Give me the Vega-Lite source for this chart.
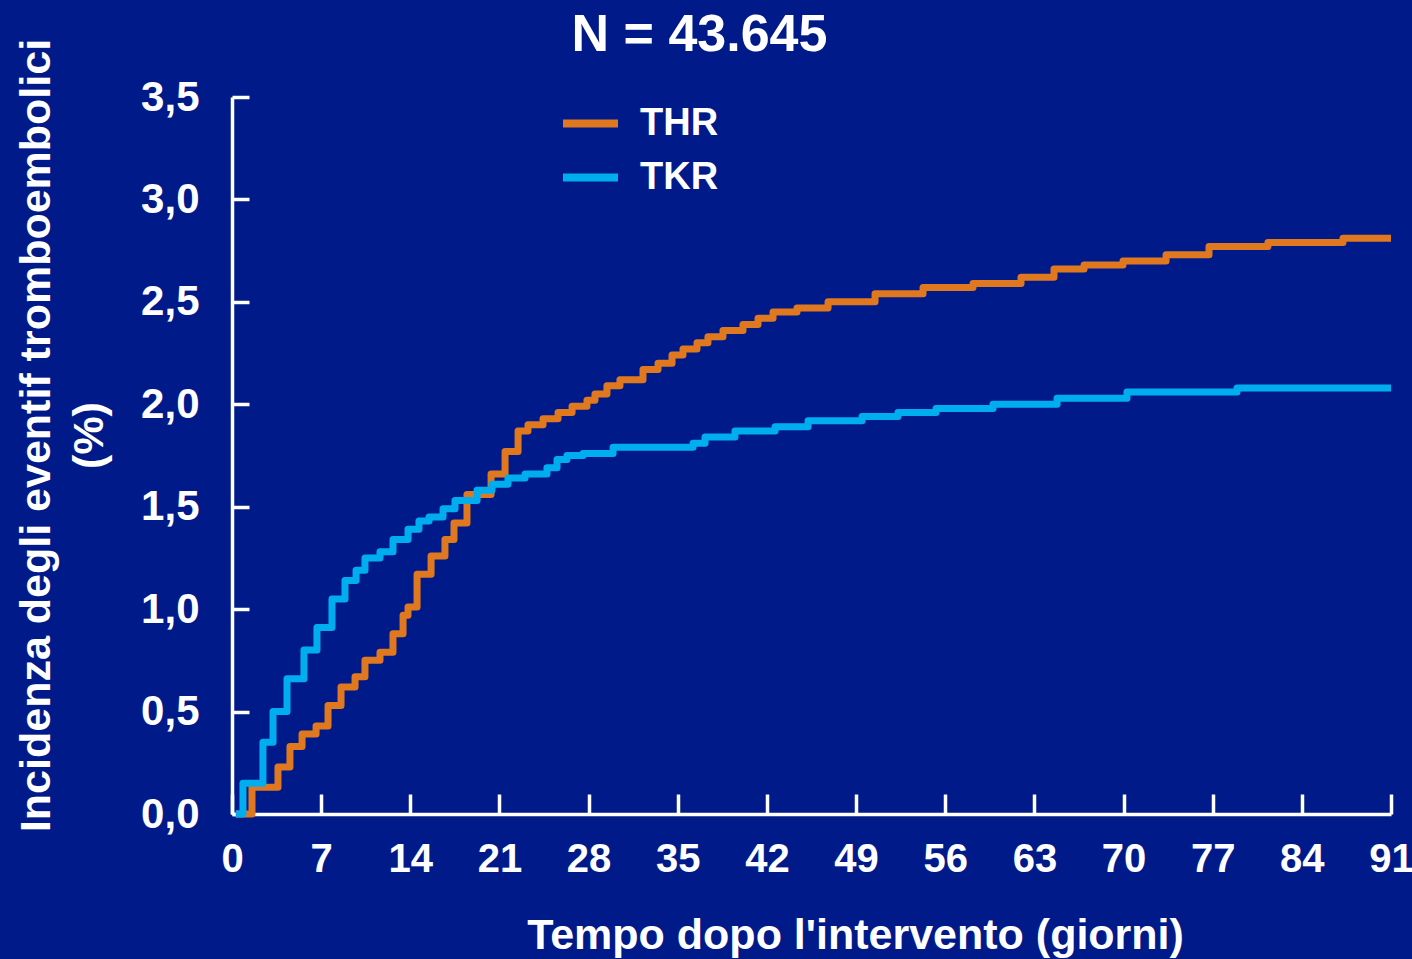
{
  "$schema": "https://vega.github.io/schema/vega-lite/v6.json",
  "width": 1159,
  "height": 717,
  "autosize": {"type": "none"},
  "padding": {"left": 232, "top": 97, "right": 21, "bottom": 145},
  "background": "#001b89",
  "config": {
    "view": {"stroke": null},
    "font": "Liberation Sans"
  },
  "data": {
    "values": [
      {"series": "THR", "day": 0.3, "value": 0},
      {"series": "THR", "day": 1.57, "value": 0.13},
      {"series": "THR", "day": 3.61, "value": 0.23},
      {"series": "THR", "day": 4.55, "value": 0.33},
      {"series": "THR", "day": 5.5, "value": 0.39},
      {"series": "THR", "day": 6.6, "value": 0.43},
      {"series": "THR", "day": 7.54, "value": 0.53},
      {"series": "THR", "day": 8.56, "value": 0.62},
      {"series": "THR", "day": 9.66, "value": 0.67},
      {"series": "THR", "day": 10.44, "value": 0.75},
      {"series": "THR", "day": 11.62, "value": 0.79},
      {"series": "THR", "day": 12.64, "value": 0.88},
      {"series": "THR", "day": 13.43, "value": 0.97},
      {"series": "THR", "day": 13.82, "value": 1.01},
      {"series": "THR", "day": 14.53, "value": 1.17},
      {"series": "THR", "day": 15.63, "value": 1.26},
      {"series": "THR", "day": 16.72, "value": 1.34},
      {"series": "THR", "day": 17.43, "value": 1.42},
      {"series": "THR", "day": 18.45, "value": 1.56},
      {"series": "THR", "day": 20.34, "value": 1.66},
      {"series": "THR", "day": 21.44, "value": 1.77},
      {"series": "THR", "day": 22.46, "value": 1.87},
      {"series": "THR", "day": 23.24, "value": 1.9},
      {"series": "THR", "day": 24.42, "value": 1.93},
      {"series": "THR", "day": 25.6, "value": 1.96},
      {"series": "THR", "day": 26.7, "value": 1.99},
      {"series": "THR", "day": 27.87, "value": 2.02},
      {"series": "THR", "day": 28.5, "value": 2.05},
      {"series": "THR", "day": 29.44, "value": 2.09},
      {"series": "THR", "day": 30.46, "value": 2.12},
      {"series": "THR", "day": 32.27, "value": 2.17},
      {"series": "THR", "day": 33.45, "value": 2.2},
      {"series": "THR", "day": 34.55, "value": 2.24},
      {"series": "THR", "day": 35.41, "value": 2.27},
      {"series": "THR", "day": 36.51, "value": 2.3},
      {"series": "THR", "day": 37.37, "value": 2.33},
      {"series": "THR", "day": 38.55, "value": 2.36},
      {"series": "THR", "day": 40.12, "value": 2.39},
      {"series": "THR", "day": 41.3, "value": 2.42},
      {"series": "THR", "day": 42.48, "value": 2.45},
      {"series": "THR", "day": 44.36, "value": 2.47},
      {"series": "THR", "day": 46.8, "value": 2.5},
      {"series": "THR", "day": 50.49, "value": 2.54},
      {"series": "THR", "day": 54.26, "value": 2.57},
      {"series": "THR", "day": 58.18, "value": 2.59},
      {"series": "THR", "day": 61.95, "value": 2.62},
      {"series": "THR", "day": 64.54, "value": 2.66},
      {"series": "THR", "day": 66.9, "value": 2.68},
      {"series": "THR", "day": 69.96, "value": 2.7},
      {"series": "THR", "day": 73.34, "value": 2.73},
      {"series": "THR", "day": 76.71, "value": 2.77},
      {"series": "THR", "day": 81.34, "value": 2.79},
      {"series": "THR", "day": 87.23, "value": 2.81},
      {"series": "THR", "day": 91, "value": 2.81},
      {"series": "TKR", "day": 0.3, "value": 0},
      {"series": "TKR", "day": 0.86, "value": 0.15},
      {"series": "TKR", "day": 2.43, "value": 0.35},
      {"series": "TKR", "day": 3.22, "value": 0.5},
      {"series": "TKR", "day": 4.32, "value": 0.66},
      {"series": "TKR", "day": 5.65, "value": 0.8},
      {"series": "TKR", "day": 6.67, "value": 0.91},
      {"series": "TKR", "day": 7.85, "value": 1.05},
      {"series": "TKR", "day": 8.87, "value": 1.14},
      {"series": "TKR", "day": 9.74, "value": 1.19},
      {"series": "TKR", "day": 10.44, "value": 1.25},
      {"series": "TKR", "day": 11.62, "value": 1.28},
      {"series": "TKR", "day": 12.64, "value": 1.34},
      {"series": "TKR", "day": 13.82, "value": 1.39},
      {"series": "TKR", "day": 14.68, "value": 1.43},
      {"series": "TKR", "day": 15.47, "value": 1.45},
      {"series": "TKR", "day": 16.57, "value": 1.49},
      {"series": "TKR", "day": 17.51, "value": 1.53},
      {"series": "TKR", "day": 19.24, "value": 1.58},
      {"series": "TKR", "day": 20.41, "value": 1.61},
      {"series": "TKR", "day": 21.67, "value": 1.64},
      {"series": "TKR", "day": 23.01, "value": 1.66},
      {"series": "TKR", "day": 24.73, "value": 1.69},
      {"series": "TKR", "day": 25.52, "value": 1.73},
      {"series": "TKR", "day": 26.3, "value": 1.75},
      {"series": "TKR", "day": 27.56, "value": 1.76},
      {"series": "TKR", "day": 29.92, "value": 1.79},
      {"series": "TKR", "day": 36.2, "value": 1.81},
      {"series": "TKR", "day": 37.14, "value": 1.84},
      {"series": "TKR", "day": 39.49, "value": 1.87},
      {"series": "TKR", "day": 42.64, "value": 1.89},
      {"series": "TKR", "day": 45.23, "value": 1.92},
      {"series": "TKR", "day": 49.47, "value": 1.94},
      {"series": "TKR", "day": 52.29, "value": 1.96},
      {"series": "TKR", "day": 55.28, "value": 1.98},
      {"series": "TKR", "day": 59.75, "value": 2.0},
      {"series": "TKR", "day": 64.78, "value": 2.03},
      {"series": "TKR", "day": 70.27, "value": 2.06},
      {"series": "TKR", "day": 78.91, "value": 2.08},
      {"series": "TKR", "day": 91, "value": 2.08}
    ]
  },
  "layer": [
    {
      "mark": {"type": "line", "interpolate": "step-after", "strokeWidth": 7, "strokeJoin": "round", "strokeCap": "butt", "clip": false},
      "encoding": {
        "x": {
          "field": "day",
          "type": "quantitative",
          "scale": {"domain": [0, 91], "nice": false, "zero": false},
          "axis": {
            "orient": "bottom",
            "values": [0, 7, 14, 21, 28, 35, 42, 49, 56, 63, 70, 77, 84, 91],
            "title": "Tempo dopo l'intervento (giorni)",
            "titleFontSize": 43,
            "titleFontWeight": "bold",
            "titleColor": "white",
            "titleFont": "Liberation Sans",
            "titleX": 623,
            "titleAlign": "center",
            "titleBaseline": "alphabetic",
            "titleY": 134,
            "grid": false,
            "domainColor": "white",
            "domainWidth": 3.5,
            "tickColor": "white",
            "tickWidth": 3.5,
            "tickSize": -20,
            "labelFontSize": 40,
            "labelFontWeight": "bold",
            "labelColor": "white",
            "labelFont": "Liberation Sans",
            "labelPadding": 45,
            "labelOverlap": false,
            "labelFlush": false,
            "labelBound": false
          }
        },
        "y": {
          "field": "value",
          "type": "quantitative",
          "scale": {"domain": [0, 3.5], "nice": false},
          "axis": {
            "values": [0, 0.5, 1, 1.5, 2, 2.5, 3, 3.5],
            "labelExpr": "replace(format(datum.value, '.1f'), '.', ',')",
            "title": ["Incidenza degli eventif tromboembolici", "(%)"],
            "titleFontSize": 43,
            "titleFontWeight": "bold",
            "titleColor": "white",
            "titleFont": "Liberation Sans",
            "titleLineHeight": 53,
            "titleAngle": -90,
            "titleAlign": "center",
            "titleBaseline": "top",
            "titleX": -217,
            "titleY": 338,
            "grid": false,
            "domainColor": "white",
            "domainWidth": 3.5,
            "tickColor": "white",
            "tickWidth": 3.5,
            "tickSize": -17,
            "labelFontSize": 42,
            "labelFontWeight": "bold",
            "labelColor": "white",
            "labelFont": "Liberation Sans",
            "labelPadding": 50,
            "labelOverlap": false,
            "labelFlush": false,
            "labelBound": false
          }
        },
        "color": {
          "field": "series",
          "type": "nominal",
          "scale": {"domain": ["THR", "TKR"], "range": ["#e07820", "#00aeef"]},
          "legend": {
            "orient": "none",
            "legendX": 327,
            "legendY": -5,
            "title": null,
            "symbolType": "stroke",
            "symbolSize": 3025,
            "symbolStrokeWidth": 8,
            "labelFontSize": 38,
            "labelFontWeight": "bold",
            "labelColor": "white",
            "labelFont": "Liberation Sans",
            "labelOffset": 18,
            "rowPadding": 3,
            "padding": 0
          }
        }
      }
    },
    {
      "mark": {"type": "line", "opacity": 0},
      "encoding": {
        "x": {
          "field": "day",
          "type": "quantitative",
          "scale": {"domain": [0, 91], "nice": false, "zero": false},
          "axis": {
            "orient": "top",
            "title": "N = 43.645",
            "titleFontSize": 52,
            "titleFontWeight": "bold",
            "titleColor": "white",
            "titleFont": "Liberation Sans",
            "titleX": 467,
            "titleY": -47,
            "titleAlign": "center",
            "titleBaseline": "alphabetic",
            "domain": false,
            "ticks": false,
            "labels": false,
            "grid": false
          }
        },
        "y": {
          "field": "value",
          "type": "quantitative",
          "scale": {"domain": [0, 3.5], "nice": false}
        }
      }
    }
  ],
  "resolve": {"axis": {"x": "independent"}}
}
